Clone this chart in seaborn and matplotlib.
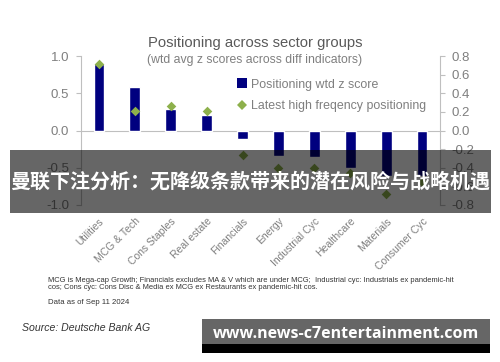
import matplotlib
matplotlib.use("Agg")
import matplotlib.pyplot as plt
import seaborn as sns
import pandas as pd
from matplotlib.lines import Line2D
from matplotlib.patches import Rectangle

categories = ["Utilities", "MCG & Tech", "Cons Staples", "Real estate", "Financials",
              "Energy", "Industrial Cyc", "Healthcare", "Materials", "Consumer Cyc"]
positioning_z = [0.90, 0.59, 0.29, 0.21, -0.11, -0.34, -0.35, -0.50, -0.61, -0.61]
latest_hf = [0.72, 0.21, 0.26, 0.21, -0.26, -0.40, -0.40, -0.46, -0.68, -0.55]

left_ticks = [-1.0, -0.5, 0.0, 0.5, 1.0]
right_ticks = [-0.8, -0.6, -0.4, -0.2, 0.0, 0.2, 0.4, 0.6, 0.8]

sns.set_theme(style="white")
plt.rcParams['font.family'] = ['Liberation Sans', 'DejaVu Sans']

NAVY = "#00007F"
GREEN = "#8DB04B"
GRAY = "#595959"
LGRAY = "#7F7F7F"
SPINE = "#BFBFBF"

df = pd.DataFrame({"cat": categories, "z": positioning_z, "hf": latest_hf})

fig = plt.figure(figsize=(5.0, 3.62), dpi=100)
ax = fig.add_axes([0.162, 0.434, 0.718, 0.411])
sns.barplot(data=df, x="cat", y="z", color=NAVY, saturation=1, width=0.3, ax=ax, zorder=2)
ax.set_ylim(-1, 1)
ax.set_xlim(-0.5, 9.5)
ax.axhline(0, color=SPINE, lw=0.8, zorder=1)
ax.set_yticks(left_ticks)
ax.set_yticklabels([f"{t:.1f}" for t in left_ticks])
ax.set_xlabel("")
ax.set_ylabel("")

ax2 = ax.twinx()
sns.scatterplot(data=df, x="cat", y="hf", marker="D", color=GREEN, s=24, linewidth=0, ax=ax2, zorder=3)
ax2.set_ylim(-0.8, 0.8)
ax2.set_yticks(right_ticks)
ax2.set_yticklabels([f"{t:.1f}" for t in right_ticks])
ax2.set_ylabel("")
ax2.set_xlabel("")
ax2.set_xlim(-0.5, 9.5)

for a in (ax, ax2):
    for s in ("top", "bottom"):
        a.spines[s].set_visible(False)
    a.spines["left"].set_color(SPINE)
    a.spines["right"].set_color(SPINE)
    a.spines["left"].set_linewidth(0.8)
    a.spines["right"].set_linewidth(0.8)
    a.tick_params(axis="y", colors=LGRAY, labelsize=9.5, length=3.5, width=0.8, color=SPINE, pad=5)
ax.spines["right"].set_visible(False)
ax2.spines["left"].set_visible(False)

ax.tick_params(axis="x", length=0, pad=8, labelsize=7.5, colors=LGRAY)
for lbl in ax.get_xticklabels():
    lbl.set_rotation(45)
    lbl.set_ha("right")
    lbl.set_rotation_mode("anchor")
ax2.tick_params(axis="x", length=0, labelbottom=False)

handles = [Line2D([0], [0], marker="s", color="none", markerfacecolor=NAVY, markeredgewidth=0, markersize=6.5),
           Line2D([0], [0], marker="D", color="none", markerfacecolor=GREEN, markeredgewidth=0, markersize=5)]
fig.legend(handles, ["Positioning wtd z score", "Latest high freqency positioning"],
           loc="upper left", bbox_to_anchor=(0.462, 0.8), frameon=False, fontsize=8.9,
           labelcolor=LGRAY, handlelength=0.8, handletextpad=0.3, labelspacing=0.75, borderpad=0)

fig.text(0.51, 0.862, "Positioning across sector groups", ha="center", va="bottom",
         fontsize=10.6, color=GRAY)
fig.text(0.51, 0.818, "(wtd avg z scores across diff indicators)", ha="center", va="bottom",
         fontsize=8.8, color=LGRAY)

fig.text(0.096, 1 - 281 / 362, "MCG is Mega-cap Growth; Financials excludes MA & V which are under MCG;  Industrial cyc: Industrials ex pandemic-hit",
         fontsize=5.4, color="#333333", va="center")
fig.text(0.096, 1 - 287.5 / 362, "cos; Cons cyc: Cons Disc & Media ex MCG ex Restaurants ex pandemic-hit cos.",
         fontsize=5.4, color="#333333", va="center")
fig.text(0.096, 1 - 303 / 362, "Data as of Sep 11 2024", fontsize=5.6, color="#333333", va="center")
fig.text(0.044, 1 - 328 / 362, "Source: Deutsche Bank AG", fontsize=7.6, color="#333333", va="center", style="italic")

# overlay banner
fig.patches.append(Rectangle((0.02, 1 - 213 / 362), 0.962, 63 / 362, transform=fig.transFigure,
                             facecolor="black", alpha=0.6, edgecolor="none", zorder=10))
fig.text(0.501, 1 - 181 / 362, "曼联下注分析：无降级条款带来的潜在风险与战略机遇", ha="center", va="center",
         fontsize=14.4, color="white", fontweight="bold",
         family=["Noto Sans CJK SC", "DejaVu Sans"], zorder=11)

# watermark box
fig.patches.append(Rectangle((0.404, 1 - 344 / 362), 0.576, 25 / 362, transform=fig.transFigure,
                             facecolor="#666666", edgecolor="none", zorder=10))
fig.patches.append(Rectangle((0.404, 1 - 353 / 362), 0.576, 9 / 362, transform=fig.transFigure,
                             facecolor="black", edgecolor="none", zorder=10))
fig.text(0.692, 1 - 334 / 362, "www.news-c7entertainment.com", ha="center", va="center",
         fontsize=11.5, color="white", fontweight="bold", family=["Open Sans", "DejaVu Sans"], zorder=11)

fig.savefig("out.png", dpi=100)
